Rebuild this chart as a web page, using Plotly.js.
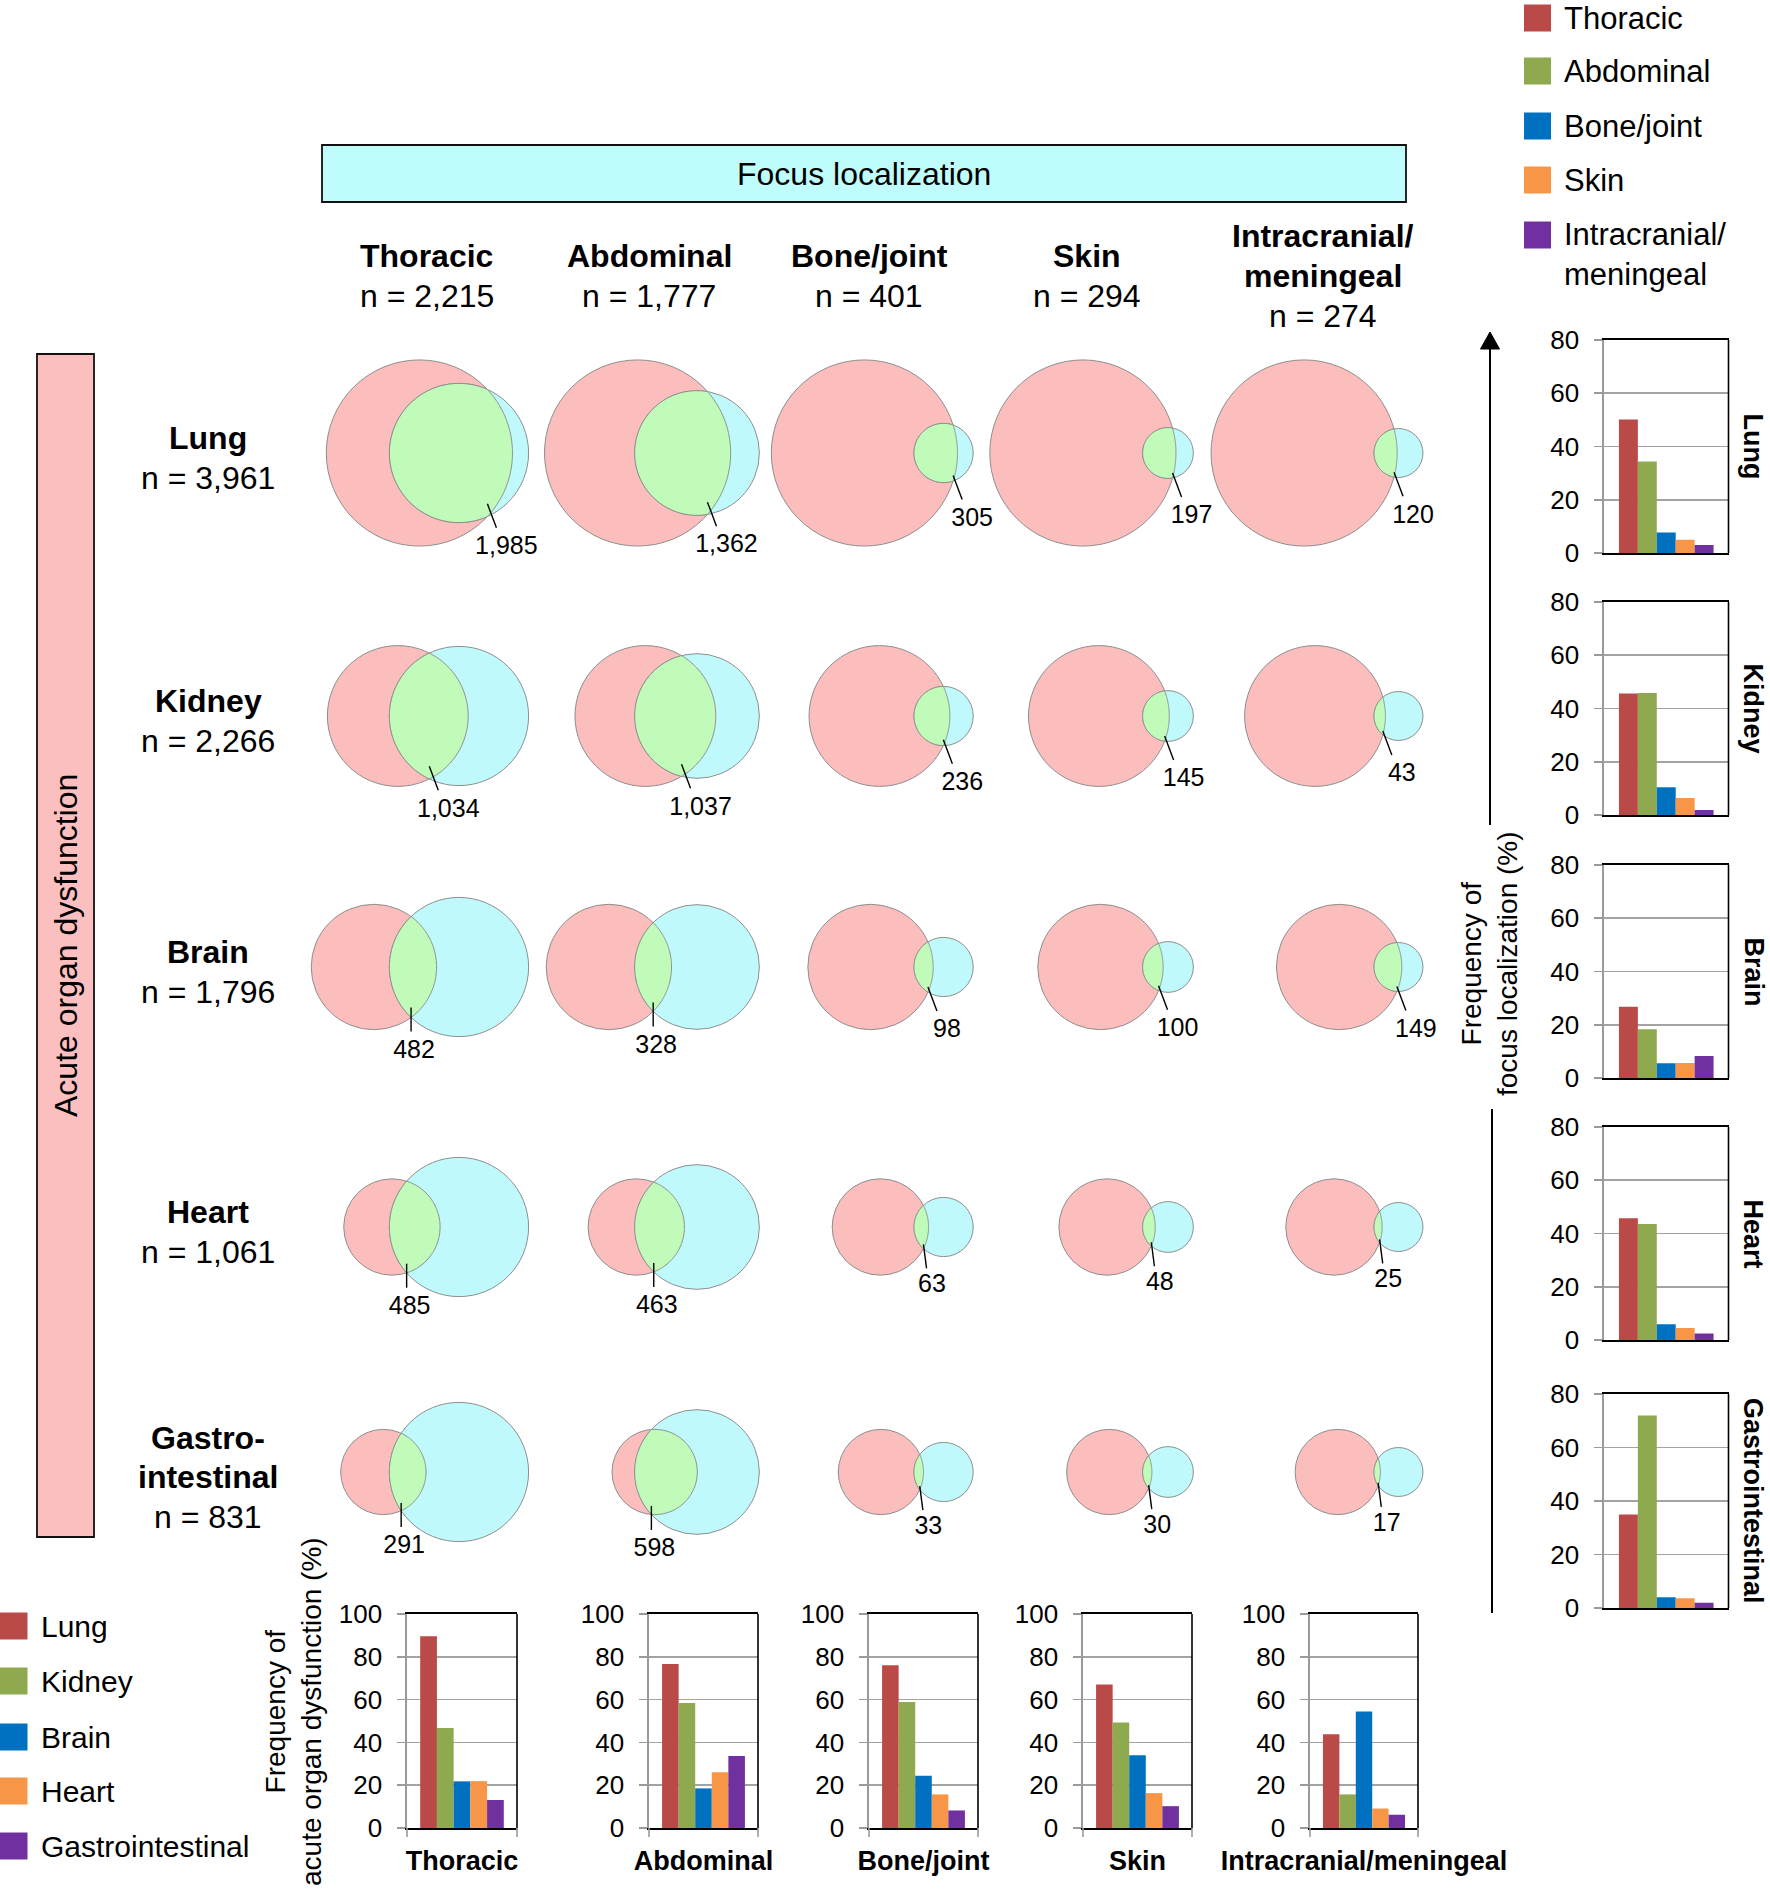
<!DOCTYPE html>
<html><head><meta charset="utf-8">
<script src="https://cdn.plot.ly/plotly-3.0.1.min.js"></script>
<style>body{margin:0;background:#fff}</style></head>
<body><div id="chart" style="width:1770px;height:1894px"></div>
<script>
// ---------------- DATA ----------------
const focusNames = ['Thoracic','Abdominal','Bone/joint','Skin','Intracranial/meningeal'];
const focusHeaders = ['Thoracic','Abdominal','Bone/joint','Skin','Intracranial/<br>meningeal'];
const focusLegend = ['Thoracic','Abdominal','Bone/joint','Skin','Intracranial/<br>meningeal'];
const focusN = [2215, 1777, 401, 294, 274];

const organNames = ['Lung','Kidney','Brain','Heart','Gastrointestinal'];
const organRowLabels = ['Lung','Kidney','Brain','Heart','Gastro-<br>intestinal'];
const organN = [3961, 2266, 1796, 1061, 831];

// overlap counts (organ dysfunction AND focus)
const overlapLung   = [1985, 1362, 305, 197, 120];
const overlapKidney = [1034, 1037, 236, 145, 43];
const overlapBrain  = [482, 328, 98, 100, 149];
const overlapHeart  = [485, 463, 63, 48, 25];
const overlapGI     = [291, 598, 33, 30, 17];

// Frequency of focus localization (%) per organ dysfunction (right charts)
const focusPctLung   = [50.1, 34.4, 7.7, 5.0, 3.0];
const focusPctKidney = [45.6, 45.8, 10.4, 6.4, 1.9];
const focusPctBrain  = [26.8, 18.3, 5.5, 5.6, 8.3];
const focusPctHeart  = [45.7, 43.6, 5.9, 4.5, 2.4];
const focusPctGI     = [35.0, 72.0, 4.0, 3.6, 2.0];

// Frequency of acute organ dysfunction (%) per focus (bottom charts)
const organPctThoracic     = [89.6, 46.7, 21.8, 21.9, 13.1];
const organPctAbdominal    = [76.6, 58.4, 18.5, 26.1, 33.7];
const organPctBone         = [76.1, 58.9, 24.4, 15.7, 8.2];
const organPctSkin         = [67.0, 49.3, 34.0, 16.3, 10.2];
const organPctIntracranial = [43.8, 15.7, 54.4, 9.1, 6.2];

const rightTickVals = [0, 20, 40, 60, 80];
const bottomTickVals = [0, 20, 40, 60, 80, 100];

// ---------------- STYLE / LAYOUT ----------------
const W = 1770, H = 1894;
const FONT = 'Liberation Sans, Arial, Helvetica, sans-serif';
const palette = ['#b94a47', '#8fa94f', '#0070c0', '#f79646', '#7030a0'];
const PINK = '#fcbdbd', CYAN = '#bff9fc', GREEN = '#c0fbb9', EDGE = '#8e8e8e';
const K = 1.479;                       // px per sqrt(count) for venn circles
const cyanX = [459, 697, 943.6, 1168, 1398.5];
const rowY = [453, 716, 967, 1227, 1472];
const headerX = [426.5, 649, 869, 1087, 1323];
// leader-line slant per row/column (style only)
const leaderSlant = [[1,1,1,1,1],[1,1,1,1,1],[0,0,1,1,1],[0,0,0.35,0.35,0.35],[0,0,0.35,0.35,0.35]];
const rightTop = [340, 602, 865, 1127, 1394], rightBot = [553, 815, 1078, 1340, 1608];
const rightX = [1604, 1728.5];
const botX = [[407, 517], [649, 758], [869, 978], [1083, 1192], [1310, 1418]];
const botY = [1614, 1828];

const px = x => x / W, py = y => 1 - y / H;
const fmt = n => n.toLocaleString('en-US');

const overlaps = [overlapLung, overlapKidney, overlapBrain, overlapHeart, overlapGI];
const focusPct = [focusPctLung, focusPctKidney, focusPctBrain, focusPctHeart, focusPctGI];
const organPct = [organPctThoracic, organPctAbdominal, organPctBone, organPctSkin, organPctIntracranial];

function lensArea(r1, r2, d) {
  if (d >= r1 + r2) return 0;
  if (d <= Math.abs(r1 - r2)) return Math.PI * Math.min(r1, r2) ** 2;
  const a1 = r1 * r1 * Math.acos((d * d + r1 * r1 - r2 * r2) / (2 * d * r1));
  const a2 = r2 * r2 * Math.acos((d * d + r2 * r2 - r1 * r1) / (2 * d * r2));
  const t = 0.5 * Math.sqrt((-d + r1 + r2) * (d + r1 - r2) * (d - r1 + r2) * (d + r1 + r2));
  return a1 + a2 - t;
}
function solveD(r1, r2, A) {
  let lo = Math.abs(r1 - r2) + 1e-6, hi = r1 + r2;
  for (let i = 0; i < 80; i++) {
    const m = (lo + hi) / 2;
    if (lensArea(r1, r2, m) > A) lo = m; else hi = m;
  }
  return (lo + hi) / 2;
}

const shapes = [], annotations = [], traces = [];
const leadX = [], leadY = [], labX = [], labY = [], labT = [];

for (let r = 0; r < 5; r++) {
  for (let c = 0; c < 5; c++) {
    const r1 = K * Math.sqrt(organN[r]), r2 = K * Math.sqrt(focusN[c]);
    const A = Math.PI * K * K * overlaps[r][c];
    const d = solveD(r1, r2, A);
    const c2x = cyanX[c], c1x = c2x - d, cy = rowY[r];
    shapes.push({type:'circle', xref:'x', yref:'y', x0:c1x-r1, x1:c1x+r1, y0:cy-r1, y1:cy+r1,
      fillcolor:PINK, line:{color:EDGE, width:1}, layer:'below'});
    shapes.push({type:'circle', xref:'x', yref:'y', x0:c2x-r2, x1:c2x+r2, y0:cy-r2, y1:cy+r2,
      fillcolor:CYAN, line:{color:EDGE, width:1}, layer:'below'});
    const a = (d * d + r1 * r1 - r2 * r2) / (2 * d);
    const h = Math.sqrt(Math.max(0, r1 * r1 - a * a));
    const xi = c1x + a;
    const pts = [];
    const thB = Math.atan2(h, xi - c2x);
    for (let i = 0; i <= 90; i++) {
      const t = thB + (2 * Math.PI - 2 * thB) * i / 90;
      pts.push([c2x + r2 * Math.cos(t), cy + r2 * Math.sin(t)]);
    }
    const phB = Math.atan2(h, a);
    for (let i = 0; i <= 90; i++) {
      const t = -phB + 2 * phB * i / 90;
      pts.push([c1x + r1 * Math.cos(t), cy + r1 * Math.sin(t)]);
    }
    shapes.push({type:'path', xref:'x', yref:'y', layer:'below',
      path:'M' + pts.map(p => p[0].toFixed(2) + ',' + p[1].toFixed(2)).join('L') + 'Z',
      fillcolor:GREEN, line:{color:EDGE, width:1}});
    const s = leaderSlant[r][c];
    const sx = xi, sy = cy + 0.8 * h;
    leadX.push(sx, sx + 9 * s, null); leadY.push(sy, sy + 24, null);
    labX.push(sx + 3 + 16 * s); labY.push(sy + 44 - 4 * (1 - s) * (r >= 3 && c >= 2 ? 1 : 0));
    labT.push(fmt(overlaps[r][c]));
  }
}
traces.push({type:'scatter', mode:'lines', x:leadX, y:leadY, xaxis:'x', yaxis:'y',
  line:{color:'#000', width:1.4}, hoverinfo:'skip', showlegend:false});
traces.push({type:'scatter', mode:'text', x:labX, y:labY, text:labT, xaxis:'x', yaxis:'y',
  textposition:'middle center', textfont:{family:FONT, size:25, color:'#000'},
  hoverinfo:'skip', showlegend:false});

const layout = {
  width: W, height: H, margin:{l:0, r:0, t:0, b:0},
  paper_bgcolor:'#fff', plot_bgcolor:'rgba(0,0,0,0)',
  font:{family:FONT, color:'#000'},
  showlegend:false, barmode:'group', bargap:0.24, bargroupgap:0,
  xaxis:{domain:[0,1], range:[0,W], visible:false, fixedrange:true},
  yaxis:{domain:[0,1], range:[H,0], visible:false, fixedrange:true},
  shapes, annotations
};

function axisPair(idx, xd, yd, ymax, tickvals, showX) {
  layout['xaxis' + idx] = {domain:xd, anchor:'y' + idx, type:'category', showgrid:false,
    showline:true, mirror:true, linecolor:'#000', linewidth:1.6, ticks:'',
    showticklabels:showX, tickfont:{family:FONT, size:27, weight:'bold', color:'#000'},
    ticklabelstandoff:8, fixedrange:true, zeroline:false};
  layout['yaxis' + idx] = {domain:yd, anchor:'x' + idx, range:[0, ymax], tickvals:tickvals,
    showgrid:true, gridcolor:'#a3a3a3', gridwidth:1.6, zeroline:false,
    showline:true, linecolor:'#9a9a9a', linewidth:1.6, ticks:'outside', ticklen:8,
    tickcolor:'#9a9a9a', tickwidth:1.6, tickfont:{family:FONT, size:26, color:'#000'},
    ticklabelstandoff:10, fixedrange:true};
  shapes.push({type:'line', xref:'x' + idx + ' domain', yref:'y' + idx + ' domain',
    x0:1, x1:1, y0:0, y1:1, line:{color:'#000', width:1.6}, layer:'above'});
  if (showX) {
    [0, 1].forEach(e => shapes.push({type:'line', xref:'x' + idx + ' domain', yref:'paper',
      x0:e, x1:e, y0:yd[0], y1:yd[0] - 9 / H, line:{color:'#9a9a9a', width:1.6}, layer:'above'}));
  }
}

// right charts
for (let r = 0; r < 5; r++) {
  const idx = r + 2;
  axisPair(idx, [px(rightX[0]), px(rightX[1])], [py(rightBot[r]), py(rightTop[r])], 80, rightTickVals, false);
  for (let f = 0; f < 5; f++) {
    traces.push({type:'bar', x:[organNames[r]], y:[focusPct[r][f]], name:focusNames[f],
      xaxis:'x' + idx, yaxis:'y' + idx, marker:{color:palette[f]}, showlegend:false,
      hovertemplate:organNames[r] + ' / ' + focusNames[f] + ': %{y}%<extra></extra>'});
  }
  annotations.push({xref:'paper', yref:'paper', x:px(1753), y:py((rightTop[r] + rightBot[r]) / 2),
    text:'<b>' + organNames[r] + '</b>', textangle:90, showarrow:false,
    font:{family:FONT, size:27, color:'#000'}, xanchor:'center', yanchor:'middle'});
}
// bottom charts
for (let f = 0; f < 5; f++) {
  const idx = f + 7;
  axisPair(idx, [px(botX[f][0]), px(botX[f][1])], [py(botY[1]), py(botY[0])], 100, bottomTickVals, true);
  for (let o = 0; o < 5; o++) {
    traces.push({type:'bar', x:[focusNames[f]], y:[organPct[f][o]], name:organNames[o],
      xaxis:'x' + idx, yaxis:'y' + idx, marker:{color:palette[o]}, showlegend:false,
      hovertemplate:focusNames[f] + ' / ' + organNames[o] + ': %{y}%<extra></extra>'});
  }
}

// Focus localization box
shapes.push({type:'rect', xref:'paper', yref:'paper', x0:px(322), x1:px(1406), y0:py(202), y1:py(145),
  fillcolor:'#bffcfc', line:{color:'#111', width:1.8}, layer:'below'});
annotations.push({xref:'paper', yref:'paper', x:px(864), y:py(174), text:'Focus localization',
  showarrow:false, font:{family:FONT, size:32}, xanchor:'center', yanchor:'middle'});

// Acute organ dysfunction box
shapes.push({type:'rect', xref:'paper', yref:'paper', x0:px(37), x1:px(94), y0:py(1537), y1:py(354),
  fillcolor:'#fcbfbf', line:{color:'#111', width:1.8}, layer:'below'});
annotations.push({xref:'paper', yref:'paper', x:px(66), y:py(946), text:'Acute organ dysfunction',
  textangle:-90, showarrow:false, font:{family:FONT, size:32}, xanchor:'center', yanchor:'middle'});

// column headers
for (let c = 0; c < 5; c++) {
  const lines = focusHeaders[c].split('<br>').map(s => '<b>' + s + '</b>');
  lines.push('n = ' + fmt(focusN[c]));
  lines.forEach((t, i) => annotations.push({xref:'paper', yref:'paper', x:px(headerX[c]),
    y:py(276 + (i - (lines.length - 1) / 2) * 40), text:t, showarrow:false,
    font:{family:FONT, size:32}, xanchor:'center', yanchor:'middle'}));
}
// row labels
for (let r = 0; r < 5; r++) {
  const lines = organRowLabels[r].split('<br>').map(s => '<b>' + s + '</b>');
  lines.push('n = ' + fmt(organN[r]));
  lines.forEach((t, i) => annotations.push({xref:'paper', yref:'paper', x:px(208),
    y:py(rowY[r] + 5 + (i - (lines.length - 1) / 2) * 39.5), text:t, showarrow:false,
    font:{family:FONT, size:32}, xanchor:'center', yanchor:'middle'}));
}

// axis titles
annotations.push({xref:'paper', yref:'paper', x:px(1489), y:py(964),
  text:'Frequency of<br>focus localization (%)', textangle:-90, showarrow:false,
  font:{family:FONT, size:28}, xanchor:'center', yanchor:'middle'});
annotations.push({xref:'paper', yref:'paper', x:px(293), y:py(1712),
  text:'Frequency of<br>acute organ dysfunction (%)', textangle:-90, showarrow:false,
  font:{family:FONT, size:28}, xanchor:'center', yanchor:'middle'});

// right arrow
shapes.push({type:'line', xref:'paper', yref:'paper', x0:px(1490), x1:px(1490), y0:py(825), y1:py(345),
  line:{color:'#000', width:2}});
shapes.push({type:'path', xref:'paper', yref:'paper', fillcolor:'#000', line:{color:'#000', width:1},
  path:'M' + px(1490) + ',' + py(332) + 'L' + px(1480.5) + ',' + py(349) + 'L' + px(1499.5) + ',' + py(349) + 'Z'});
shapes.push({type:'line', xref:'paper', yref:'paper', x0:px(1492), x1:px(1492), y0:py(1109), y1:py(1613),
  line:{color:'#000', width:2}});

// legends
const topLegY = [18, 71, 126, 180, 235];
for (let f = 0; f < 5; f++) {
  shapes.push({type:'rect', xref:'paper', yref:'paper', x0:px(1524), x1:px(1551),
    y0:py(topLegY[f] + 13.5), y1:py(topLegY[f] - 13.5), fillcolor:palette[f], line:{width:0}});
  const nl = focusLegend[f].split('<br>').length;
  annotations.push({xref:'paper', yref:'paper', x:px(1562), y:py(topLegY[f] + (nl - 1) * 19.5),
    text:focusLegend[f], showarrow:false, font:{family:FONT, size:31}, align:'left',
    xanchor:'left', yanchor:'middle'});
}
const botLegY = [1626, 1681, 1737, 1791, 1846];
for (let o = 0; o < 5; o++) {
  shapes.push({type:'rect', xref:'paper', yref:'paper', x0:px(0), x1:px(27.5),
    y0:py(botLegY[o] + 13.5), y1:py(botLegY[o] - 13.5), fillcolor:palette[o], line:{width:0}});
  annotations.push({xref:'paper', yref:'paper', x:px(39), y:py(botLegY[o]),
    text:organNames[o], showarrow:false, font:{family:FONT, size:30}, align:'left',
    xanchor:'left', yanchor:'middle'});
}

Plotly.newPlot('chart', traces, layout, {staticPlot:true, displayModeBar:false});
</script></body></html>
